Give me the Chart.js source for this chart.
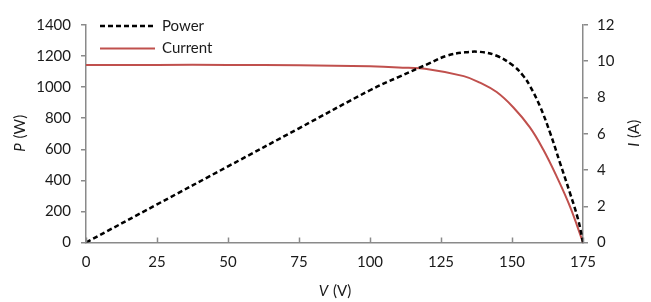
<!DOCTYPE html>
<html>
<head>
<meta charset="utf-8">
<script src="https://cdn.jsdelivr.net/npm/chart.js@4.4.1/dist/chart.umd.min.js"></script>
<style>
  html, body { margin: 0; padding: 0; background: #fff; }
  #wrap { width: 651px; height: 302px; position: relative; }
</style>
</head>
<body>
<div id="wrap"><canvas id="c" width="651" height="302"></canvas></div>
<script>
// ---- data ----
const powerV   = [0, 25, 50, 75, 100, 110, 121, 127, 133, 138.7, 144.6, 150.5, 154, 156.3, 159.8, 163.4, 166.9, 170.4, 173.3, 175];
const powerW   = [0, 245, 490, 735, 980, 1065, 1154, 1202, 1223, 1227, 1202, 1137, 1072, 1008, 879, 707, 513, 319, 147, 0];
const currentV = [0, 25, 50, 75, 100, 110, 121, 133, 138.7, 144.6, 150.5, 156.3, 161, 165.7, 170.4, 175];
const currentA = [9.8, 9.8, 9.8, 9.78, 9.72, 9.66, 9.55, 9.18, 8.82, 8.3, 7.45, 6.35, 5.13, 3.65, 1.99, 0];
const seriesNames = ['Power', 'Current'];
const axisTitles = { x: ['V', ' (V)'], yLeft: ['P', ' (W)'], yRight: ['I', ' (A)'] };

const FONT = 'Lato, "Open Sans", sans-serif';
const TXT = '#1a1a1a';
const AXIS = '#8a8a8a';

const toXY = (xs, ys) => xs.map((x, i) => ({ x: x, y: ys[i] }));
const plain = v => String(v);

const overlay = {
  id: 'overlay',
  afterDraw(chart) {
    const ctx = chart.ctx;
    const ca = chart.chartArea;
    const xs = chart.scales.x;
    ctx.save();
    // inward x tick marks
    ctx.strokeStyle = AXIS; ctx.lineWidth = 1.5;
    xs.ticks.forEach(t => {
      const px = Math.round(xs.getPixelForValue(t.value)) + 0.5;
      ctx.beginPath(); ctx.moveTo(px, ca.bottom); ctx.lineTo(px, ca.bottom - 5); ctx.stroke();
    });
    // axis titles with italic symbol
    function mixed(parts, cx, cy, rot) {
      ctx.save();
      ctx.translate(cx, cy); ctx.rotate(rot);
      ctx.fillStyle = TXT; ctx.textBaseline = 'middle'; ctx.textAlign = 'left';
      ctx.font = 'italic 15px ' + FONT; const w1 = ctx.measureText(parts[0]).width;
      ctx.font = '15px ' + FONT; const w2 = ctx.measureText(parts[1]).width;
      let x0 = -(w1 + w2) / 2;
      ctx.font = 'italic 15px ' + FONT; ctx.fillText(parts[0], x0, 0);
      ctx.font = '15px ' + FONT; ctx.fillText(parts[1], x0 + w1 + 1, 0);
      ctx.restore();
    }
    const cy = (ca.top + ca.bottom) / 2;
    mixed(axisTitles.yLeft, 20, cy, -Math.PI / 2);
    mixed(axisTitles.yRight, 634, cy, -Math.PI / 2);
    mixed(axisTitles.x, (ca.left + ca.right) / 2, 291, 0);
    // legend
    const items = chart.data.datasets;
    const rows = [26, 48.5];
    items.forEach((ds, i) => {
      const y = rows[i];
      ctx.strokeStyle = ds.borderColor; ctx.lineWidth = ds.borderWidth;
      ctx.setLineDash(ds.borderDash || []);
      ctx.beginPath(); ctx.moveTo(100, y); ctx.lineTo(155, y); ctx.stroke();
      ctx.setLineDash([]);
      ctx.fillStyle = TXT; ctx.font = '15px ' + FONT; ctx.textBaseline = 'middle'; ctx.textAlign = 'left';
      ctx.fillText(ds.label, 162, y);
    });
    ctx.restore();
  }
};

new Chart(document.getElementById('c'), {
  type: 'scatter',
  data: {
    datasets: [
      {
        label: seriesNames[0], data: toXY(powerV, powerW), yAxisID: 'y',
        showLine: true, pointRadius: 0, borderColor: '#000000', borderWidth: 2.5,
        borderDash: [5, 3], tension: 0.4, order: 1
      },
      {
        label: seriesNames[1], data: toXY(currentV, currentA), yAxisID: 'y1',
        showLine: true, pointRadius: 0, borderColor: '#c0504d', borderWidth: 2,
        tension: 0.4, order: 2
      }
    ]
  },
  options: {
    responsive: false, animation: false, devicePixelRatio: 1,
    layout: { padding: { top: 25, left: 0, right: 0, bottom: 0 } },
    plugins: { legend: { display: false }, tooltip: { enabled: false } },
    scales: {
      x: {
        type: 'linear', min: 0, max: 175,
        ticks: { stepSize: 25, color: TXT, font: { family: FONT, size: 15 }, padding: 11, maxRotation: 0, callback: plain },
        grid: { display: false, drawTicks: false },
        border: { display: true, color: AXIS, width: 1.5 },
        afterFit(s) { s.height = 59.5; }
      },
      y: {
        position: 'left', min: 0, max: 1400,
        ticks: { stepSize: 200, color: TXT, font: { family: FONT, size: 15 }, padding: 10, callback: plain },
        grid: { drawOnChartArea: false, drawTicks: true, tickLength: 5, color: AXIS, lineWidth: 1.5 },
        border: { display: true, color: AXIS, width: 1.5 },
        afterFit(s) { s.width = 86; }
      },
      y1: {
        position: 'right', min: 0, max: 12,
        ticks: { stepSize: 2, color: TXT, font: { family: FONT, size: 15 }, padding: 9, callback: plain },
        grid: { drawOnChartArea: false, drawTicks: true, tickLength: 5, color: AXIS, lineWidth: 1.5 },
        border: { display: true, color: AXIS, width: 1.5 },
        afterFit(s) { s.width = 68; }
      }
    }
  },
  plugins: [overlay]
});
</script>
</body>
</html>
